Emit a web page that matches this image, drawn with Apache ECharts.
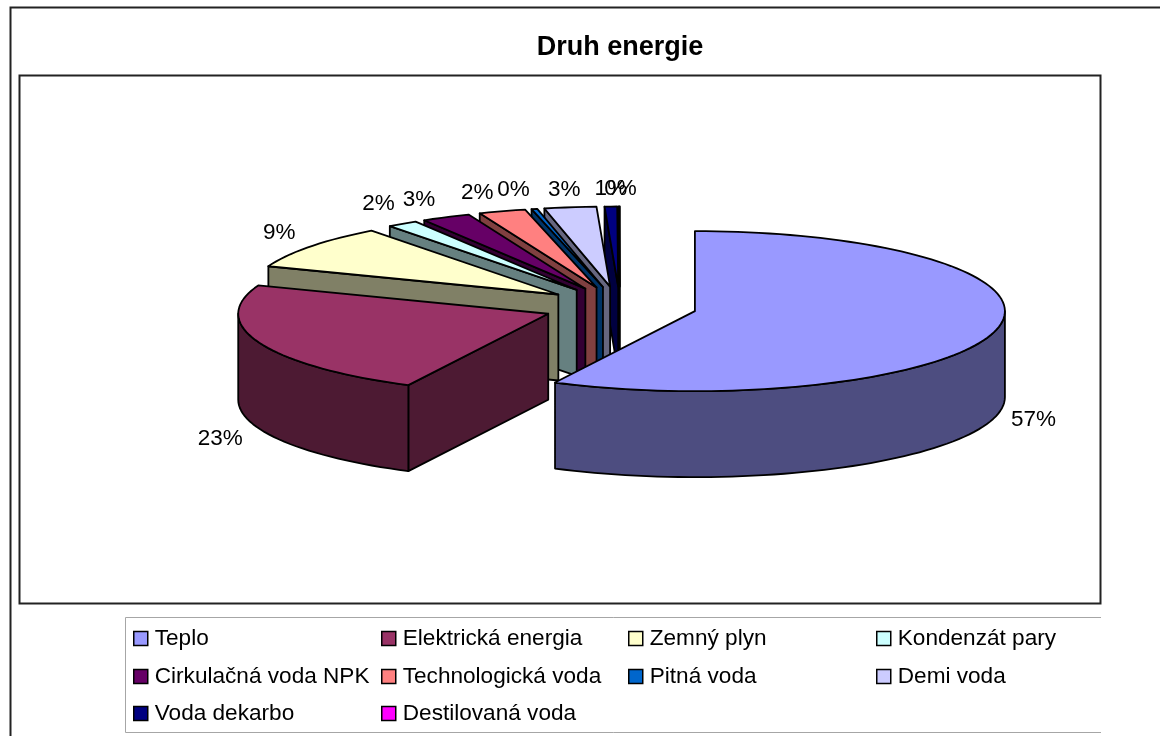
<!DOCTYPE html>
<html>
<head>
<meta charset="utf-8">
<title>Druh energie</title>
<style>
html,body{margin:0;padding:0;background:#fff;}
#chart{width:1160px;height:736px;}
</style>
<script src="https://cdn.jsdelivr.net/npm/echarts@6/dist/echarts.min.js"></script>
</head>
<body>
<div id="chart"></div>
<script>
var categories = ['Teplo','Elektrická energia','Zemný plyn','Kondenzát pary','Cirkulačná voda NPK','Technologická voda','Pitná voda','Demi voda','Voda dekarbo','Destilovaná voda'];
var values = [57.45,23.3,8.95,1.6,2.55,2.45,0.3,2.7,0.65,0.05];
var topColors = ['#9999FF','#993366','#FFFFCC','#CCFFFF','#660066','#FF8080','#0066CC','#CCCCFF','#000080','#FF00FF'];
var wallColors = ['#4D4D80','#4D1A33','#808066','#668080','#330033','#804040','#003366','#666680','#000040','#800080'];

// where the fake 3d pie sits
var pie = {cx:620, cy:306.5, rx:310, ry:80, depth:86, explodeX:77, explodeY:20};
// label nudges from the rim point, one per slice
var labelShiftX = [37,-39,-31,-24,-27,-25,-21,-6,0,1];
var labelShiftY = [4,10,-14,-20,-17,-18,-19,-18,-18,-18];
var legendLeft = [133,381,628,876];
var legendTop = [627,665,702];

var FONT = '"Liberation Sans", Arial, sans-serif';
var total = values.reduce(function(a,b){ return a+b; }, 0);

// angle 0 is 12 o'clock, going clockwise
var angleFrom = [], angleTo = [], running = 0;
values.forEach(function(v){
    angleFrom.push(echarts.number.linearMap(running,[0,total],[0,Math.PI*2]));
    running += v;
    angleTo.push(echarts.number.linearMap(running,[0,total],[0,Math.PI*2]));
});

function rimPoint(c, a, drop){
    return [c[0]+pie.rx*Math.sin(a), c[1]-pie.ry*Math.cos(a)+(drop||0)];
}

function arcPoints(c, from, to, drop){
    var pts = [];
    var steps = Math.max(1, Math.ceil((to-from)/(Math.PI/90)));
    for(var i=0;i<=steps;i++){
        pts.push(rimPoint(c, from+(to-from)*i/steps, drop));
    }
    return pts;
}

function face(points, color){
    return {
        type:'polygon',
        shape:{points:points},
        style:{fill:color, stroke:'#000', lineWidth:1.8, lineJoin:'round'}
    };
}

function renderSlice(params, api){
    var i = categories.length-1-params.seriesIndex;
    var from = angleFrom[i], to = angleTo[i], mid = (from+to)/2;
    var c = [pie.cx+pie.explodeX*Math.sin(mid), pie.cy-pie.explodeY*Math.cos(mid)];
    var apexLow = [c[0], c[1]+pie.depth];
    var children = [];

    // start side wall faces us on the left half only
    if(Math.sin(from) < -0.001){
        children.push(face([c, rimPoint(c,from), rimPoint(c,from,pie.depth), apexLow], wallColors[i]));
    }
    // end side wall faces us on the right half only
    if(Math.sin(to) > 0.001){
        children.push(face([c, rimPoint(c,to), rimPoint(c,to,pie.depth), apexLow], wallColors[i]));
    }
    // outer wall, front part of the ellipse
    var wallFrom = Math.max(from, Math.PI/2), wallTo = Math.min(to, Math.PI*1.5);
    if(wallTo > wallFrom){
        var upper = arcPoints(c, wallFrom, wallTo, 0);
        var lower = arcPoints(c, wallFrom, wallTo, pie.depth).reverse();
        children.push(face(upper.concat(lower), wallColors[i]));
    }
    // top
    children.push(face([c].concat(arcPoints(c, from, to, 0)), topColors[i]));

    // label
    var lowerHalf = Math.cos(mid) < 0;
    var anchor = rimPoint(c, mid, lowerHalf ? pie.depth : 0);
    children.push({
        type:'text',
        style:{
            x:anchor[0]+labelShiftX[i],
            y:anchor[1]+labelShiftY[i],
            text:Math.round(api.value(0)/total*100)+'%',
            font:'22.5px '+FONT,
            fill:'#000',
            align:'center',
            verticalAlign:'middle'
        }
    });
    return {type:'group', children:children};
}

var series = [];
// back slices first so the front ones paint over them
for(var s=categories.length-1;s>=0;s--){
    series.push({
        type:'custom',
        name:categories[s],
        coordinateSystem:'none',
        renderItem:renderSlice,
        itemStyle:{color:topColors[s]},
        data:[[values[s]]],
        silent:true
    });
}

var legends = categories.map(function(name,i){
    return {
        data:[name],
        left:legendLeft[i%4],
        top:legendTop[Math.floor(i/4)],
        padding:0,
        orient:'horizontal',
        icon:'rect',
        itemWidth:14,
        itemHeight:14,
        itemStyle:{borderColor:'#000',borderWidth:1.5},
        selectedMode:false,
        textStyle:{fontFamily:FONT,fontSize:22.6,color:'#000',padding:[0,0,5,2]}
    };
});

var chart = echarts.init(document.getElementById('chart'), null, {renderer:'canvas'});
chart.setOption({
    animation:false,
    backgroundColor:'#fff',
    title:{
        text:'Druh energie',
        left:620,
        top:34,
        textAlign:'center',
        padding:0,
        textStyle:{fontFamily:FONT,fontSize:27,fontWeight:'bold',color:'#000'}
    },
    legend:legends,
    graphic:[
        {type:'polyline',z:-1,shape:{points:[[10.5,736],[10.5,7.5],[1160,7.5]]},style:{fill:null,stroke:'#222',lineWidth:2}},
        {type:'rect',z:-1,shape:{x:19.5,y:75.5,width:1081,height:528},style:{fill:'#fff',stroke:'#222',lineWidth:2}},
        {type:'polyline',z:-1,shape:{points:[[1101,617.5],[125.5,617.5],[125.5,732.5],[1101,732.5]]},style:{fill:null,stroke:'#a6a6a6',lineWidth:1}}
    ],
    series:series
});
</script>
</body>
</html>
